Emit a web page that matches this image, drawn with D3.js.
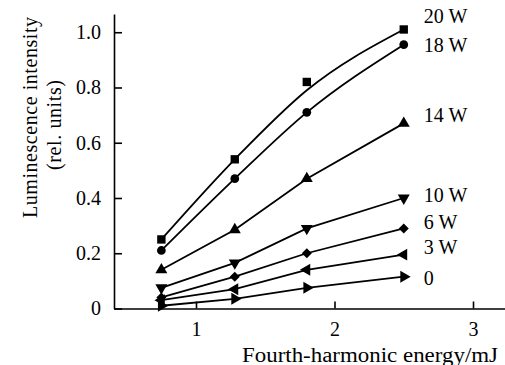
<!DOCTYPE html>
<html>
<head>
<meta charset="utf-8">
<script src="https://cdn.jsdelivr.net/npm/d3@7"></script>
<style>
  body { margin: 0; background: #fff; }
</style>
</head>
<body>
<svg id="chart"></svg>
<script>
// energies (mJ) at which luminescence was measured
const energies = [0.75, 1.28, 1.8, 2.5];

// pump powers and relative intensities
const powers = ["20 W", "18 W", "14 W", "10 W", "6 W", "3 W", "0"];
const i20 = [0.25, 0.54, 0.82, 1.01];
const i18 = [0.21, 0.47, 0.71, 0.955];
const i14 = [0.14, 0.285, 0.47, 0.67];
const i10 = [0.075, 0.165, 0.29, 0.40];
const i6 = [0.04, 0.115, 0.20, 0.29];
const i3 = [0.03, 0.07, 0.14, 0.195];
const i0 = [0.01, 0.035, 0.075, 0.115];
// smooth fit drawn through the 20 W points
const fit20 = [0.25, 0.54, 0.79, 1.01];

const yTicks = [0, 0.2, 0.4, 0.6, 0.8, 1.0];
const xTicks = [1, 2, 3];

const width = 505, height = 365;
const margin = { top: 14, right: 0, bottom: 56.5, left: 114 };
const serif = "Liberation Serif";
const fs = 20;

const svg = d3.select("#chart")
    .attr("width", width)
    .attr("height", height);

const x = d3.scaleLinear()
    .domain([0.408, 3.231])
    .range([margin.left, width - margin.right]);

const y = d3.scaleLinear()
    .domain([0, 1.066])
    .range([height - margin.bottom, margin.top]);

// axes, ticks point inward
const yAxis = svg.append("g")
    .attr("transform", `translate(${margin.left},0)`)
    .call(d3.axisLeft(y)
        .tickValues(yTicks)
        .tickSizeInner(-8)
        .tickSizeOuter(0)
        .tickPadding(13)
        .tickFormat(d => d === 0 ? "0" : d3.format(".1f")(d)));

const xAxis = svg.append("g")
    .attr("transform", `translate(0,${height - margin.bottom})`)
    .call(d3.axisBottom(x)
        .tickValues(xTicks)
        .tickSizeInner(-7)
        .tickSizeOuter(0)
        .tickPadding(13)
        .tickFormat(d3.format("d")));

[yAxis, xAxis].forEach(a => {
    a.attr("font-family", serif).attr("font-size", fs);
    a.selectAll("path, line").attr("stroke", "#000").attr("stroke-width", 1.6);
});

// axis titles
svg.append("text")
    .attr("transform", "translate(37,117.5) rotate(-90)")
    .attr("text-anchor", "middle")
    .attr("font-family", serif)
    .attr("font-size", fs)
    .attr("textLength", 201)
    .text("Luminescence intensity");

svg.append("text")
    .attr("transform", "translate(60.5,125) rotate(-90)")
    .attr("text-anchor", "middle")
    .attr("font-family", serif)
    .attr("font-size", fs)
    .attr("textLength", 90)
    .text("(rel. units)");

svg.append("text")
    .attr("x", 498)
    .attr("y", 361.5)
    .attr("text-anchor", "end")
    .attr("font-family", serif)
    .attr("font-size", fs)
    .attr("textLength", 256)
    .attr("lengthAdjust", "spacingAndGlyphs")
    .text("Fourth-harmonic energy/mJ");

// one entry per curve
const series = [
    { name: powers[0], values: i20, line: fit20, smooth: true, symbol: d3.symbolSquare, size: 70, rot: 0, dy: -13 },
    { name: powers[1], values: i18, line: i18, smooth: true, symbol: d3.symbolCircle, size: 60, rot: 0, dy: 0 },
    { name: powers[2], values: i14, line: i14, smooth: false, symbol: d3.symbolTriangle, size: 62, rot: 0, dy: -8 },
    { name: powers[3], values: i10, line: i10, smooth: false, symbol: d3.symbolTriangle, size: 62, rot: 180, dy: -3 },
    { name: powers[4], values: i6, line: i6, smooth: false, symbol: d3.symbolSquare, size: 50, rot: 45, dy: -6 },
    { name: powers[5], values: i3, line: i3, smooth: false, symbol: d3.symbolTriangle, size: 62, rot: -90, dy: -8 },
    { name: powers[6], values: i0, line: i0, smooth: false, symbol: d3.symbolTriangle, size: 62, rot: 90, dy: 1 }
];

series.forEach(s => {
    const pts = energies.map((e, i) => [e, s.line[i]]);
    const line = d3.line()
        .x(d => x(d[0]))
        .y(d => y(d[1]))
        .curve(s.smooth ? d3.curveMonotoneX : d3.curveLinear);

    svg.append("path")
        .datum(pts)
        .attr("d", line)
        .attr("fill", "none")
        .attr("stroke", "#000")
        .attr("stroke-width", 1.8);

    svg.append("g")
        .selectAll("path")
        .data(energies.map((e, i) => [e, s.values[i]]))
        .join("path")
        .attr("d", d3.symbol().type(s.symbol).size(s.size))
        .attr("transform", d => `translate(${x(d[0])},${y(d[1])}) rotate(${s.rot})`)
        .attr("fill", "#000");

    const last = energies.length - 1;
    svg.append("text")
        .attr("x", x(energies[last]) + 20)
        .attr("y", y(s.values[last]) + s.dy)
        .attr("dy", "0.35em")
        .attr("font-family", serif)
        .attr("font-size", fs)
        .text(s.name);
});
</script>
</body>
</html>
